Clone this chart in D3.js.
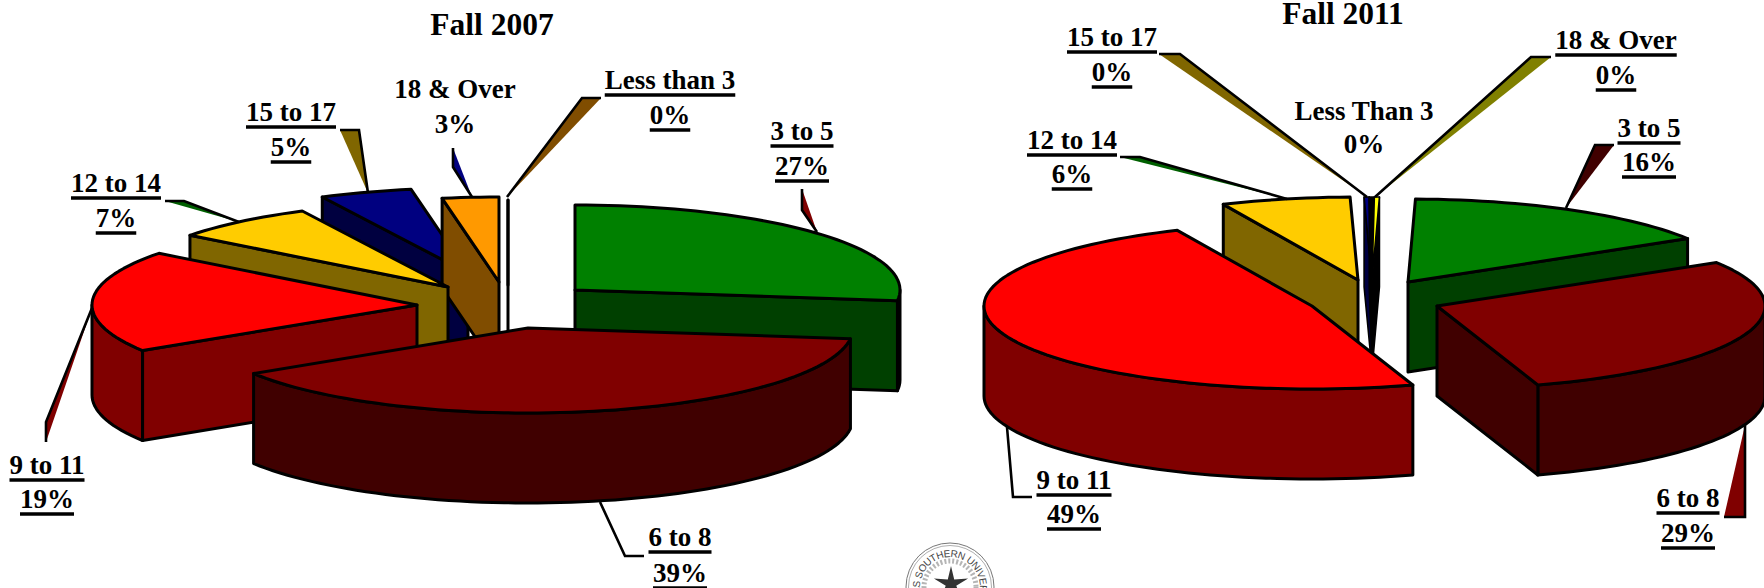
<!DOCTYPE html>
<html><head><meta charset="utf-8">
<script src="https://cdn.jsdelivr.net/npm/d3@7"></script>
<style>html,body{margin:0;padding:0;background:#fff}svg{display:block}</style>
</head><body><svg id="c" width="1764" height="588"></svg>
<script>
// ---------- data ----------
const titles = ["Fall 2007", "Fall 2011"];
const categories2007 = ["3 to 5","6 to 8","9 to 11","12 to 14","15 to 17","18 & Over","Less than 3"];
const values2007 = [27,39,19.4,7.2,4.6,2.8,0];
const categories2011 = ["3 to 5","6 to 8","9 to 11","12 to 14","15 to 17","18 & Over","Less Than 3"];
const values2011 = [16,29,48.6,6.4,0.25,0.25,0.25];
const percent2007 = ["27%","39%","19%","7%","5%","3%","0%"];
const percent2011 = ["16%","29%","49%","6%","0%","0%","0%"];
const topColors2007 = ["#008000","#800000","#ff0000","#ffcc00","#000080","#ff9900","#ffffff"];
const sideColors2007 = ["#004000","#400000","#800000","#806600","#000040","#804d00","#ffffff"];
const topColors2011 = ["#008000","#800000","#ff0000","#ffcc00","#000080","#000000","#ffff00"];
const sideColors2011 = ["#004000","#400000","#800000","#806600","#000040","#000000","#000000"];

// ---------- layout ----------
const layout2007 = {
  rx:325, ry:85, depth:90, startDeg:0,
  apex:[[575,290],[528,328],[417,305],[448,287],[468,273],[499,282],[508,285]],
  order:[0,4,5,6,3,2,1],
  title:[492,35],
  text:[[802,140,175,1],[680,546,582,1],[47,474,508,1],[116,192,227,1],[291,121,156,1],[455,98,133,0],[670,89,124,1]],
  leaders:[
    {pts:[[817,232],[802,210],[802,189]],fill:"#800000"},
    {pts:[[600,502],[625,556],[644,556]],fill:"none"},
    {pts:[[92,308],[46,422],[46,442]],fill:"#800000"},
    {pts:[[239,222],[184,201],[165,201]],fill:"#006000"},
    {pts:[[368,193],[359,130],[340,130]],fill:"#806600"},
    {pts:[[472,197],[453,167],[453,148]],fill:"#000080"},
    {pts:[[507,197],[582,98],[601,98]],fill:"#804d00"}
  ]
};
const layout2011 = {
  rx:328, ry:83, depth:90, startDeg:1.3,
  apex:[[1408,282],[1437,306],[1312,306],[1358,280],[1372,280],[1372,280],[1372,280]],
  order:[3,4,5,6,0,1,2],
  title:[1343,24],
  text:[[1649,137,171,1],[1688,507,542,1],[1074,489,523,1],[1072,149,183,1],[1112,46,81,1],[1616,49,84,1],[1364,120,153,0]],
  leaders:[
    {pts:[[1566,208],[1595,145],[1614,145]],fill:"#400000"},
    {pts:[[1745,425],[1745,517],[1724,517]],fill:"#800000"},
    {pts:[[1007,427],[1013,497],[1032,497]],fill:"none"},
    {pts:[[1287,199],[1140,157],[1120,157]],fill:"#006000"},
    {pts:[[1367,197],[1180,54],[1159,54]],fill:"#806600"},
    {pts:[[1375,197],[1531,57],[1551,57]],fill:"#808000"}
  ]
};
const FONT = "'Liberation Serif','Times New Roman',serif";
const svg = d3.select("#c");
const line = d3.line();

function drawPie(L, cats, vals, pcts, tops, sides, titleText){
  const g = svg.append("g");
  const toRad = Math.PI/180;
  const pie = d3.pie().sort(null).value(d=>d)
    .startAngle(L.startDeg*toRad).endAngle((360+L.startDeg)*toRad);
  const arcs = pie(vals);
  const sx = d3.scaleLinear().domain([-1,1]).range([-L.rx,L.rx]);
  const sy = d3.scaleLinear().domain([-1,1]).range([-L.ry,L.ry]);

  L.order.forEach(i=>{
    const a0 = arcs[i].startAngle, a1 = arcs[i].endAngle;
    // slivers keep a thinner outline so that their colours stay visible
    const SW = (a1-a0>0 && a1-a0<2*toRad) ? 1.6 : 3;
    const style = sel => sel.attr("stroke","#000").attr("stroke-width",SW).attr("stroke-linejoin","round");
    const [ax,ay] = L.apex[i];
    const rim = a => [ax+sx(Math.sin(a)), ay+sy(-Math.cos(a))];
    const n = Math.max(2,Math.ceil((a1-a0)/(2*toRad)));
    const samples = d3.range(n+1).map(k=>a0+(a1-a0)*k/n);
    const slice = g.append("g");

    // outer wall: only the part facing the viewer
    const lo = Math.max(a0,Math.PI/2), hi = Math.min(a1,1.5*Math.PI);
    if(hi>lo){
      const m = Math.max(2,Math.ceil((hi-lo)/(2*toRad)));
      const up = d3.range(m+1).map(k=>rim(lo+(hi-lo)*k/m));
      const down = up.map(p=>[p[0],p[1]+L.depth]).reverse();
      style(slice.append("path").attr("d",line(up.concat(down))+"Z").attr("fill",sides[i]));
    }
    // radial cut faces that face the viewer
    const wall = a => {
      const p = rim(a);
      const pts = [[ax,ay],p,[p[0],p[1]+L.depth],[ax,ay+L.depth]];
      style(slice.append("path").attr("d",line(pts)+"Z").attr("fill",sides[i]));
    };
    if(Math.sin(a0)<0) wall(a0);
    if(Math.sin(a1)>0) wall(a1);
    // top face
    const face = [[ax,ay]].concat(samples.map(rim));
    style(slice.append("path").attr("d",line(face)+"Z").attr("fill",tops[i]));
  });

  // leader callouts
  L.leaders.forEach(l=>{
    if(l.fill!=="none") g.append("path").attr("d",line(l.pts)+"Z").attr("fill",l.fill);
    g.append("path").attr("d",line(l.pts)).attr("fill","none").attr("stroke","#000").attr("stroke-width",2.6);
  });

  // title
  g.append("text").attr("x",L.title[0]).attr("y",L.title[1]).attr("text-anchor","middle")
    .attr("font-family",FONT).attr("font-weight","bold").attr("font-size",31.5).text(titleText);

  // labels
  cats.forEach((c,i)=>{
    const [x,y1,y2,ul] = L.text[i];
    [[c,y1],[pcts[i],y2]].forEach(([s,y])=>{
      const t = g.append("text").attr("x",x).attr("y",y).attr("text-anchor","middle")
        .attr("font-family",FONT).attr("font-weight","bold").attr("font-size",27).attr("fill","#000").text(s);
      if(ul){
        const w = t.node().getComputedTextLength();
        g.append("line").attr("x1",x-w/2).attr("x2",x+w/2).attr("y1",y+6).attr("y2",y+6)
          .attr("stroke","#000").attr("stroke-width",3.4);
      }
    });
  });
}
drawPie(layout2007,categories2007,values2007,percent2007,topColors2007,sideColors2007,titles[0]);
drawPie(layout2011,categories2011,values2011,percent2011,topColors2011,sideColors2011,titles[1]);

// university seal, cut by the bottom edge
const sealText = "TEXAS SOUTHERN UNIVERSITY";
const seal = svg.append("g").attr("transform","translate(950,587)");
seal.append("circle").attr("r",44).attr("fill","#fff").attr("stroke","#777").attr("stroke-width",1);
seal.append("circle").attr("r",41.5).attr("fill","none").attr("stroke","#999").attr("stroke-width",0.8);
seal.append("circle").attr("r",26).attr("fill","none").attr("stroke","#b5b5b5").attr("stroke-width",5).attr("stroke-dasharray","2 2");
const arcR = 30, arcHalf = 127*Math.PI/180;
svg.append("defs").append("path").attr("id","sealArc")
  .attr("d",`M${-arcR*Math.sin(arcHalf)},${-arcR*Math.cos(arcHalf)}A${arcR},${arcR} 0 1 1 ${arcR*Math.sin(arcHalf)},${-arcR*Math.cos(arcHalf)}`);
seal.append("text").attr("font-family","'Liberation Sans',sans-serif").attr("font-size",10).attr("letter-spacing",-0.4).attr("fill","#444")
  .append("textPath").attr("href","#sealArc").attr("startOffset","50%").attr("text-anchor","middle").text(sealText);
const starPts = d3.range(10).map(k=>{
  const r = k%2?5.5:18, a = k*Math.PI/5;
  return [r*Math.sin(a), -r*Math.cos(a)];
});
seal.append("path").attr("d",line(starPts)+"Z").attr("transform","translate(1,-3)").attr("fill","#333");
</script></body></html>
